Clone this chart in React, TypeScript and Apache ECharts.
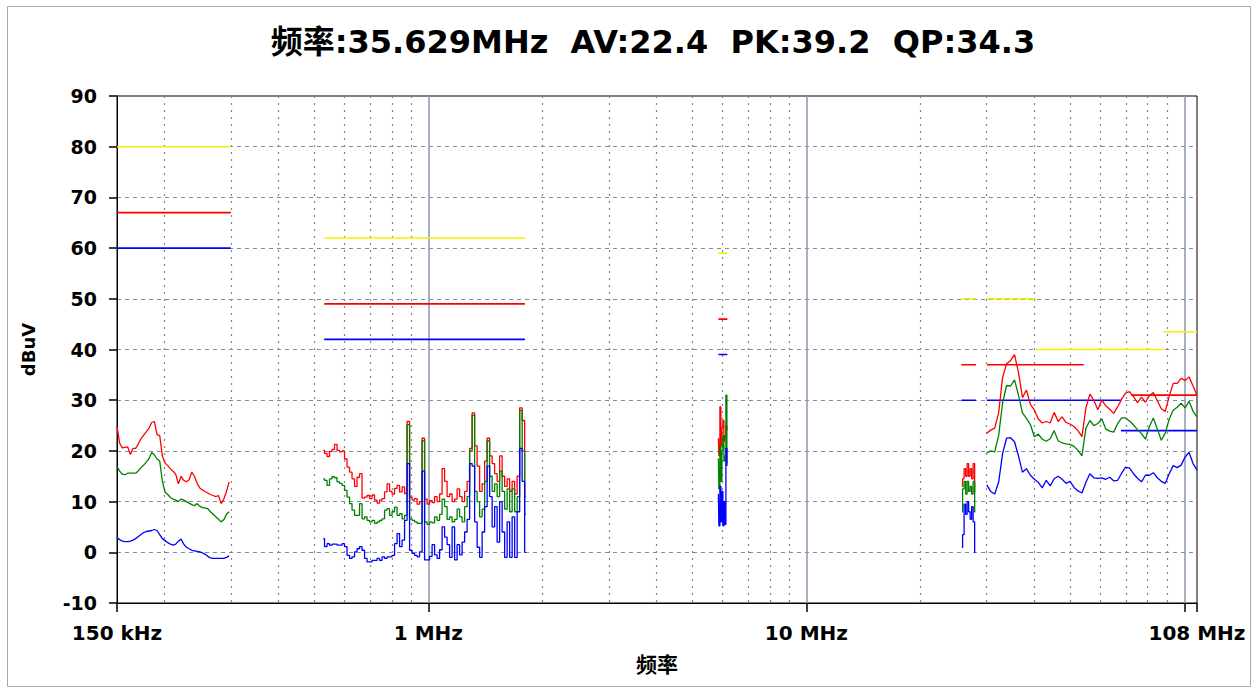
import React, { useEffect, useRef } from 'react';
import * as echarts from 'echarts';

const TITLE = '频率:35.629MHz  AV:22.4  PK:39.2  QP:34.3';
const X_NAME = '频率';
const Y_NAME = 'dBuV';
const X_MIN = 0.15;
const X_MAX = 108;
const Y_MIN = -10;
const Y_MAX = 90;
const Y_STEP = 10;

// sweep bands (MHz): [start, stop]
const BAND_A = [0.15, 0.297];
const BAND_B = [0.527, 1.811];
const BAND_C = [5.85, 6.18];
const BAND_D = [25.78, 28.0];
const BAND_E = [30, 108];

// Region A 0.15 - 0.3 MHz
const peakA = [24.8, 21.5, 20.6, 20.7, 20.8, 19.3, 20.5, 20.5, 21.4, 22.4, 23.1, 23.8, 24.5, 25.6, 25.8, 23.2, 23.0, 19.0, 17.6, 17.1, 16.5, 16.0, 15.4, 13.5, 15.0, 14.2, 13.9, 14.3, 15.8, 15.0, 13.6, 12.7, 12.3, 12.0, 11.7, 11.4, 11.2, 11.0, 11.2, 9.6, 10.5, 12.0, 13.9];
const qpA = [16.9, 16.0, 15.4, 15.3, 15.6, 15.6, 15.6, 15.6, 16.1, 16.7, 17.2, 17.8, 18.5, 19.7, 19.2, 18.4, 18.0, 14.0, 11.9, 11.4, 10.8, 10.5, 10.3, 10.0, 10.5, 10.3, 10.0, 9.7, 9.4, 9.2, 9.6, 9.1, 8.8, 8.7, 8.6, 8.0, 7.5, 7.0, 6.5, 6.0, 6.4, 7.5, 8.0];
const avA = [2.9, 2.5, 2.2, 2.1, 2.1, 2.2, 2.4, 2.7, 3.1, 3.5, 3.9, 4.1, 4.2, 4.3, 4.5, 4.3, 3.5, 2.7, 2.3, 1.9, 1.6, 1.4, 1.6, 2.2, 2.6, 1.6, 1.0, 0.7, 0.4, 0.3, 0.2, 0.1, -0.1, -0.4, -0.8, -1.1, -1.2, -1.2, -1.2, -1.2, -1.2, -1.0, -0.7];

// Region B 0.53 - 1.8 MHz
const peakB = [20.1, 19.5, 18.9, 19.9, 20.3, 21.3, 20.1, 19.8, 20.0, 18.4,
  16.8, 15.8, 14.5, 13.0, 14.8, 15.5, 10.7, 10.9, 11.2, 10.6,
  11.3, 10.3, 9.7, 10.3, 10.6, 11.9, 13.5, 12.0, 11.5, 12.6,
  13.2, 11.9, 12.9, 11.6, 25.8, 10.9, 10.3, 10.6, 9.5, 10.0,
  22.5,
  10.5, 9.5, 10.2, 9.8, 11.0, 10.0, 11.5, 16.5, 14.0, 11.0,
  11.5, 10.0, 10.5, 12.5, 11.0, 10.0, 12.0, 14.0, 20.5, 27.5,
  21.0, 17.0, 12.0, 13.5, 18.0, 22.5, 19.0, 17.5, 15.5, 14.0,
  19.0, 15.0, 13.0, 14.5, 12.0, 14.0, 11.5, 15.0, 28.5, 26.0,
  11.0];
const qpB = [14.5, 14.2, 13.2, 14.5, 14.9, 14.7, 13.9, 13.6, 13.2, 12.2,
  10.9, 9.6, 8.3, 7.3, 7.3, 9.6, 6.6, 7.0, 6.3, 6.0,
  6.3, 5.7, 6.0, 6.3, 6.6, 8.3, 8.6, 7.3, 8.0, 8.9,
  7.3, 7.6, 6.6, 7.3, 25.2, 6.6, 6.3, 6.0, 5.7, 5.7,
  22.0,
  6.0, 5.5, 6.0, 5.8, 7.0, 6.3, 7.5, 10.5, 9.0, 6.5,
  7.0, 6.0, 6.5, 8.5, 7.0, 6.0, 9.0, 11.0, 20.0, 27.0,
  12.0, 10.0, 7.0, 8.5, 14.0, 22.0, 15.0, 12.0, 13.5, 11.0,
  16.0, 12.0, 8.5, 12.5, 8.0, 12.5, 8.0, 11.0, 28.0, 20.0,
  7.5];
const avB = [2.7, 1.1, 1.7, 1.4, 1.6, 1.6, 1.4, 1.4, 1.7, 1.1,
  -0.6, -1.2, -0.9, 0.1, 0.7, 1.1, 0.4, -1.2, -1.9, -1.9,
  -1.6, -1.6, -1.2, -1.6, -0.9, -1.2, -0.9, -0.9, -0.6, 1.7,
  3.7, 1.1, 2.4, 6.3, 17.5, 0.4, -0.2, -0.6, -0.9, 0.1,
  16.0,
  -1.5, -1.5, -0.8, 1.5, -0.5, -1.2, 0.5, 5.0, 3.0, 1.5,
  -1.0, 5.0, -1.5, 1.5, -0.5, 2.0, 4.0, 6.5, 17.5, 17.0,
  6.0, 1.0, -1.0, 4.0, 9.0, 17.0, 11.0, 5.0, 9.0, 2.0,
  10.0, 4.0, -1.0, 6.0, -1.0, 7.0, -1.0, 8.0, 20.5, 14.0,
  0.0];

// Region C ~6 MHz
const peakC = [22.5, 19.0, 28.7, 21.0, 24.5, 26.0, 22.0, 23.0, 25.0, 24.0];
const qpC = [18.5, 12.5, 21.0, 14.0, 20.0, 23.0, 18.0, 19.0, 31.0, 17.5];
const avC = [11.5, 5.2, 13.0, 6.0, 12.0, 5.2, 10.0, 5.5, 20.5, 17.0];

// Region D ~26-28 MHz
const peakD = [13.0, 14.5, 16.5, 15.0, 17.5, 15.0, 16.5, 14.5, 17.5, 12.0];
const qpD = [8.0, 12.5, 14.0, 11.5, 14.0, 12.0, 13.0, 11.5, 14.0, 8.0];
const avD = [1.0, 3.5, 9.5, 7.5, 10.0, 8.0, 6.5, 9.0, 6.0, 0.0];

// Region E 30 - 108 MHz
const peakE = [23.5, 24.1, 24.5, 27.5, 34.5, 37.2, 37.8, 39.0, 35.5, 30.5,
  32.0, 29.2, 28.1, 26.3, 25.5, 25.8, 25.5, 27.6, 25.8, 26.7,
  25.6, 25.3, 24.8, 24.0, 22.8, 28.5, 31.2, 30.0, 28.1, 30.0,
  28.9, 28.2, 27.4, 28.7, 30.2, 31.4, 31.7, 30.7, 29.5, 30.6,
  29.6, 30.9, 31.5, 29.9, 28.3, 27.8, 30.8, 33.3, 33.3, 34.3,
  33.9, 34.6, 32.8, 31.0];
const qpE = [19.6, 20.0, 19.8, 23.0, 29.5, 32.9, 32.8, 34.0, 31.0, 27.5,
  26.4, 25.2, 22.8, 23.3, 22.3, 21.9, 22.4, 24.0, 22.0, 21.6,
  21.4, 21.3, 20.9, 20.1, 19.0, 24.5, 26.0, 25.0, 25.4, 26.3,
  24.3, 23.9, 23.7, 25.4, 26.5, 26.5, 25.9, 25.1, 24.2, 23.4,
  22.3, 24.8, 26.5, 24.3, 22.1, 23.5, 26.3, 28.0, 28.6, 29.4,
  28.5, 29.8, 27.8, 26.7];
const avE = [13.3, 12.0, 11.5, 13.8, 19.5, 22.5, 22.6, 21.8, 19.0, 15.8,
  16.5, 15.2, 14.4, 13.8, 12.7, 14.2, 13.1, 14.5, 15.0, 14.4,
  13.6, 14.0, 12.8, 12.1, 11.7, 13.8, 15.5, 14.7, 14.6, 14.7,
  14.4, 14.8, 14.1, 14.2, 15.6, 16.8, 16.6, 15.5, 14.6, 13.9,
  15.2, 15.2, 15.7, 14.7, 14.0, 13.6, 15.5, 17.1, 16.7, 17.2,
  18.8, 19.7, 17.5, 16.2];

// limit segments: [startMHz, stopMHz, level]
const limitYellow = [[0.15, 0.3, 80], [0.53, 1.8, 62], [5.85, 6.18, 59], [25.7, 28.1, 50], [30, 40.5, 50], [40.5, 88, 40], [88, 108, 43.5]];
const limitRed = [[0.15, 0.3, 67], [0.53, 1.8, 49], [5.85, 6.18, 46], [25.7, 28.1, 37], [30, 54.2, 37], [72.3, 108, 31]];
const limitBlue = [[0.15, 0.3, 60], [0.53, 1.8, 42], [5.85, 6.18, 39], [25.7, 28.1, 30], [30, 68, 30], [68, 108, 24]];

const FONT = "'DejaVu Sans', 'Noto Sans CJK SC', sans-serif";
const C_PK = '#ff0000';
const C_QP = '#008000';
const C_AV = '#0000ff';
const C_LIM = '#f2f200';

function sweep(band: number[], n: number): number[] {
  const [a, b] = band;
  const la = Math.log10(a);
  const lb = Math.log10(b);
  const out: number[] = [];
  for (let i = 0; i < n; i++) out.push(Math.pow(10, la + ((lb - la) * i) / (n - 1)));
  return out;
}

function traceSeries(band: number[], vals: number[], color: string, step: boolean) {
  const f = sweep(band, vals.length);
  return {
    type: 'line',
    data: vals.map((v, i) => [f[i], v]),
    showSymbol: false,
    symbol: 'none',
    step: step ? 'middle' : false,
    lineStyle: { color, width: 1.3 },
    itemStyle: { color },
    silent: true,
  };
}

function limitSeries(segs: number[][], color: string) {
  const data: any[] = [];
  segs.forEach((s) => {
    data.push([s[0], s[2]]);
    data.push([s[1], s[2]]);
    data.push([s[1], '-']);
  });
  return {
    type: 'line',
    data,
    showSymbol: false,
    symbol: 'none',
    connectNulls: false,
    lineStyle: { color, width: 1.6 },
    itemStyle: { color },
    silent: true,
  };
}

function fmtX(v: number): string {
  if (Math.abs(v - 0.15) < 1e-6) return '150 kHz';
  if (Math.abs(v - 100) < 1e-6) return '';
  if (Math.abs(v - 108) < 1e-6) return '108 MHz';
  return `${Math.round(v)} MHz`;
}

export default function App() {
  const ref = useRef<HTMLDivElement>(null);
  useEffect(() => {
    if (!ref.current) return;
    const chart = echarts.init(ref.current, null, { renderer: 'svg' });
    const regions: [number[], number[], number[], number[], boolean][] = [
      [BAND_A, peakA, qpA, avA, false],
      [BAND_B, peakB, qpB, avB, true],
      [BAND_C, peakC, qpC, avC, true],
      [BAND_D, peakD, qpD, avD, true],
      [BAND_E, peakE, qpE, avE, false],
    ];
    const series: any[] = [
      limitSeries(limitYellow, C_LIM),
      limitSeries(limitRed, C_PK),
      limitSeries(limitBlue, C_AV),
    ];
    regions.forEach(([band, pk, qp, av, st]) => {
      series.push(traceSeries(band, pk, C_PK, st));
      series.push(traceSeries(band, qp, C_QP, st));
      series.push(traceSeries(band, av, C_AV, st));
    });
    chart.setOption({
      animation: false,
      backgroundColor: '#ffffff',
      title: {
        text: TITLE,
        left: 648,
        top: 21,
        textAlign: 'center',
        textStyle: { fontFamily: FONT, fontSize: 32, fontWeight: 'bold', color: '#000' },
      },
      graphic: [
        {
          type: 'rect',
          silent: true,
          z: -10,
          shape: { x: 7.5, y: 6.5, width: 1243, height: 680 },
          style: { fill: 'none', stroke: '#a8a8a8', lineWidth: 1 },
        },
      ],
      grid: {
        left: 117,
        right: 61,
        top: 96,
        bottom: 90,
        show: true,
        borderColor: '#000',
        borderWidth: 1,
        backgroundColor: 'transparent',
      },
      xAxis: {
        type: 'log',
        logBase: 10,
        min: X_MIN,
        max: X_MAX,
        name: X_NAME,
        nameLocation: 'middle',
        nameGap: 51,
        nameTextStyle: { fontFamily: FONT, fontSize: 21, fontWeight: 'bold', color: '#000' },
        axisLine: { show: true, onZero: false, lineStyle: { color: '#000', width: 1 } },
        axisTick: { show: true, length: 9, lineStyle: { color: '#000', width: 1.5 } },
        axisLabel: {
          showMinLabel: true,
          showMaxLabel: true,
          margin: 20,
          formatter: fmtX,
          fontFamily: FONT,
          fontSize: 20,
          fontWeight: 'bold',
          color: '#000',
        },
        splitLine: { show: true, showMinLine: false, showMaxLine: false, lineStyle: { color: '#8797ab', width: 1.5 } },
        minorTick: { show: false, splitNumber: 9 },
        minorSplitLine: { show: true, lineStyle: { color: '#80868f', width: 1.2, type: [2, 5] } },
      },
      yAxis: {
        type: 'value',
        min: Y_MIN,
        max: Y_MAX,
        interval: Y_STEP,
        name: Y_NAME,
        nameLocation: 'middle',
        nameGap: 80,
        nameRotate: 90,
        nameTextStyle: { fontFamily: FONT, fontSize: 18, fontWeight: 'bold', color: '#000' },
        axisLine: { show: true, lineStyle: { color: '#000', width: 1 } },
        axisTick: { show: true, length: 8, lineStyle: { color: '#000', width: 1.5 } },
        axisLabel: { margin: 20, fontFamily: FONT, fontSize: 19, fontWeight: 'bold', color: '#000' },
        splitLine: { show: true, showMinLine: false, showMaxLine: false, lineStyle: { color: '#7f8c9a', width: 1.2, type: [4, 4] } },
      },
      series,
    });
    return () => chart.dispose();
  }, []);
  return <div ref={ref} style={{ position: 'fixed', left: 0, top: 0, width: 1258, height: 693 }} />;
}
